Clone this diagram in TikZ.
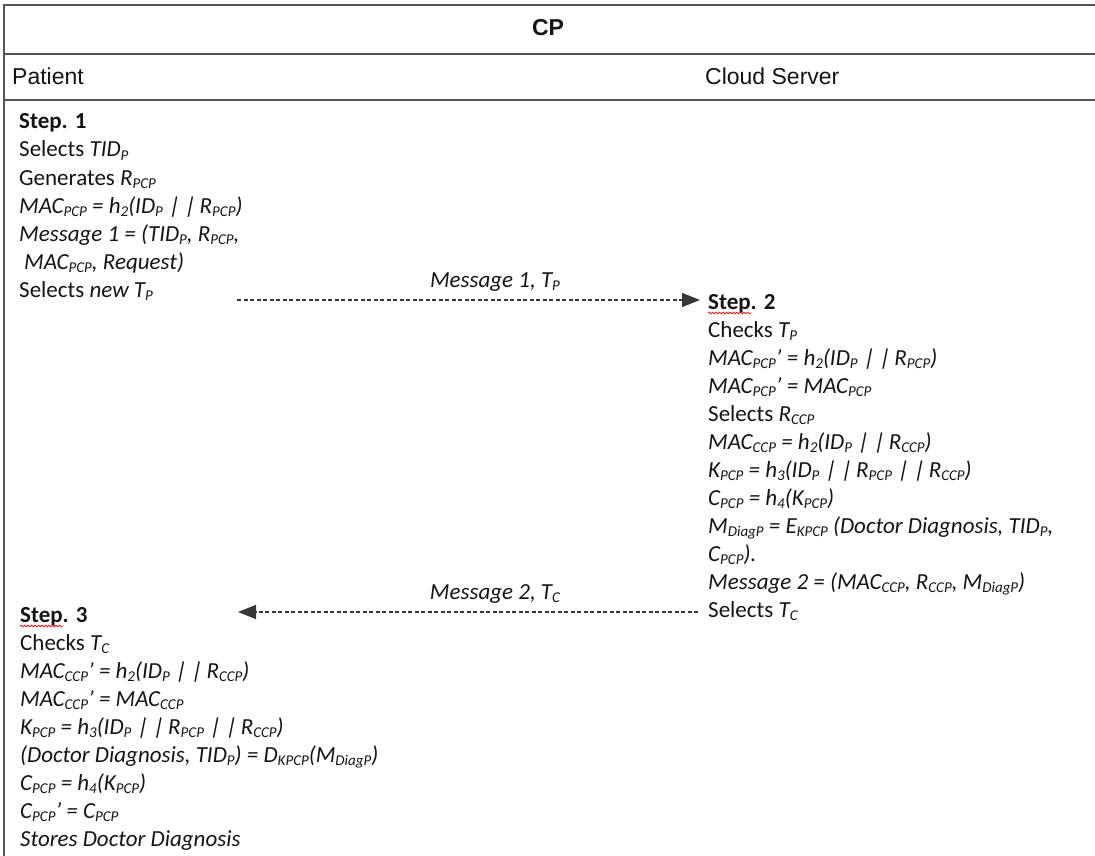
\documentclass[tikz,border=0pt]{standalone}
\usepackage{fontspec}
\setmainfont{Carlito}
\newfontfamily\hdrfont{Liberation Sans}
\newfontface\pipefont{Carlito}[FakeSlant=0.2]
\usetikzlibrary{arrows.meta,decorations.pathmorphing}
\definecolor{rulec}{RGB}{85,85,85}
\definecolor{ink}{RGB}{20,20,20}
\newcommand{\sbs}[1]{\raisebox{-3.5pt}{\fontsize{15}{15}\selectfont #1}}
\newcommand{\pp}{{\pipefont|}}
\begin{document}
\begin{tikzpicture}[x=1pt,y=-1pt,
  txt/.style={anchor=base west, inner sep=0pt, font=\fontsize{23}{28}\selectfont, text=ink},
  hdr/.style={inner sep=0pt, font=\hdrfont\fontsize{23}{28}\selectfont, text=ink},
  tline/.style={draw=rulec, line width=2pt},
  msg/.style={draw=ink!85, line width=1.2pt, dash pattern=on 4pt off 2.5pt, -{Triangle[length=18pt,width=14pt]}},
  squig/.style={draw=red, line width=0.7pt, decorate, decoration={snake, amplitude=0.9pt, segment length=3.5pt}}]
\useasboundingbox (0,0) rectangle (1095,856);
% table
\draw[tline] (4,856) -- (4,5) -- (1095,5);
\draw[tline] (4,54) -- (1095,54);
\draw[tline] (4,100) -- (1095,100);
\node[hdr, anchor=base, font=\hdrfont\bfseries\fontsize{23}{28}\selectfont] (cp) at (548,35.5) {CP};
\node[hdr, anchor=base west] (patient) at (12,85) {Patient};
\node[hdr, anchor=base west] (cloud) at (705,85) {Cloud Server};
% Step 1
\node[txt] (s1a) at (19,129) {\textbf{Step. 1}};
\node[txt] (s1b) at (19,157) {Selects \textit{TID\sbs{P}}};
\node[txt] (s1c) at (19,185) {Generates \textit{R\sbs{PCP}}};
\node[txt] (s1d) at (19,213) {\textit{MAC\sbs{PCP} = h\sbs{2}(ID\sbs{P} \pp\ \pp\ R\sbs{PCP})}};
\node[txt] (s1e) at (19,241) {\textit{Message 1 = (TID\sbs{P}, R\sbs{PCP},}};
\node[txt] (s1f) at (24,269) {\textit{MAC\sbs{PCP}, Request)}};
\node[txt] (s1g) at (19,297) {Selects \textit{new T\sbs{P}}};
% Step 2
\node[txt] (s2a) at (708,309) {\textbf{Step. 2}};
\node[txt] (s2b) at (708,337) {Checks \textit{T\sbs{P}}};
\node[txt] (s2c) at (708,365) {\textit{MAC\sbs{PCP}’ = h\sbs{2}(ID\sbs{P} \pp\ \pp\ R\sbs{PCP})}};
\node[txt] (s2d) at (708,393) {\textit{MAC\sbs{PCP}’ = MAC\sbs{PCP}}};
\node[txt] (s2e) at (708,421) {Selects \textit{R\sbs{CCP}}};
\node[txt] (s2f) at (708,449) {\textit{MAC\sbs{CCP} = h\sbs{2}(ID\sbs{P} \pp\ \pp\ R\sbs{CCP})}};
\node[txt] (s2g) at (708,477) {\textit{K\sbs{PCP} = h\sbs{3}(ID\sbs{P} \pp\ \pp\ R\sbs{PCP} \pp\ \pp\ R\sbs{CCP})}};
\node[txt] (s2h) at (708,505) {\textit{C\sbs{PCP} = h\sbs{4}(K\sbs{PCP})}};
\node[txt] (s2i) at (708,533) {\textit{M\sbs{DiagP} = E\sbs{KPCP} (Doctor Diagnosis, TID\sbs{P},}};
\node[txt] (s2j) at (708,561) {\textit{C\sbs{PCP}).}};
\node[txt] (s2k) at (708,589) {\textit{Message 2 = (MAC\sbs{CCP}, R\sbs{CCP}, M\sbs{DiagP})}};
\node[txt] (s2l) at (708,617) {Selects \textit{T\sbs{C}}};
% Step 3
\node[txt] (s3a) at (20,622) {\textbf{Step. 3}};
\node[txt] (s3b) at (20,650) {Checks \textit{T\sbs{C}}};
\node[txt] (s3c) at (20,678) {\textit{MAC\sbs{CCP}’ = h\sbs{2}(ID\sbs{P} \pp\ \pp\ R\sbs{CCP})}};
\node[txt] (s3d) at (20,706) {\textit{MAC\sbs{CCP}’ = MAC\sbs{CCP}}};
\node[txt] (s3e) at (20,734) {\textit{K\sbs{PCP} = h\sbs{3}(ID\sbs{P} \pp\ \pp\ R\sbs{PCP} \pp\ \pp\ R\sbs{CCP})}};
\node[txt] (s3f) at (20,762) {\textit{(Doctor Diagnosis, TID\sbs{P}) = D\sbs{KPCP}(M\sbs{DiagP})}};
\node[txt] (s3g) at (20,790) {\textit{C\sbs{PCP} = h\sbs{4}(K\sbs{PCP})}};
\node[txt] (s3h) at (20,818) {\textit{C\sbs{PCP}’ = C\sbs{PCP}}};
\node[txt] (s3i) at (20,846) {\textit{Stores Doctor Diagnosis}};
% spell-check squiggles
\draw[squig] ([yshift=-4pt]s2a.base west) -- ++(43,0);
\draw[squig] ([yshift=-4pt]s3a.base west) -- ++(43,0);
% messages
\coordinate (m1s) at (237,300);
\coordinate (m1e) at (700,300);
\draw[msg] (m1s) -- (m1e);
\node[txt, anchor=base] (m1l) at (495,287) {\textit{Message 1, T\sbs{P}}};
\coordinate (m2s) at (698,612);
\coordinate (m2e) at (238,612);
\draw[msg] (m2s) -- (m2e);
\node[txt, anchor=base] (m2l) at (495,599) {\textit{Message 2, T\sbs{C}}};
\end{tikzpicture}
\end{document}
